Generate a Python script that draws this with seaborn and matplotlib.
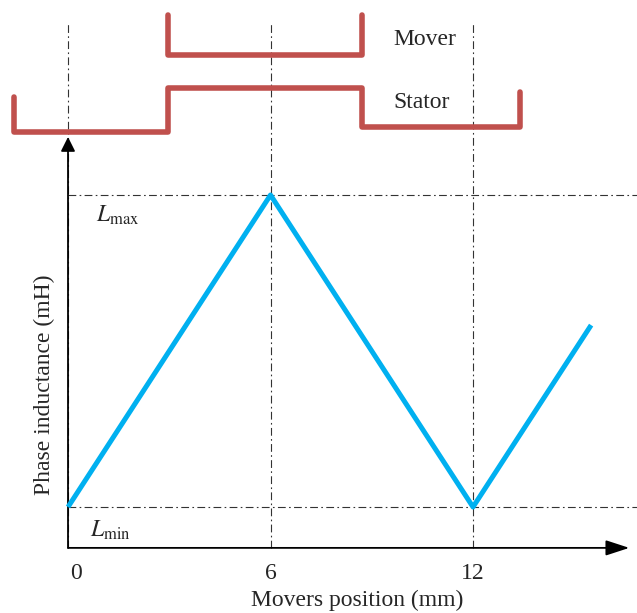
import matplotlib
matplotlib.use("Agg")
import matplotlib.pyplot as plt
import seaborn as sns
import pandas as pd

# ---- data ----
position_mm = [0, 6, 12, 15.5]
inductance = [0.0, 1.0, 0.0, 0.583]          # normalised: 0 = Lmin, 1 = Lmax
tick_values = [0, 6, 12]
tick_labels = ["0", "6", "12"]
mover_x = [2.96, 2.96, 8.71, 8.71]
mover_y = [1.577, 1.449, 1.449, 1.577]
stator_x = [-1.6, -1.6, 2.96, 2.96, 8.71, 8.71, 13.39, 13.39]
stator_y = [1.314, 1.202, 1.202, 1.343, 1.343, 1.218, 1.218, 1.330]

sns.set_theme(style="white")
plt.rcParams["font.family"] = ["Liberation Serif", "DejaVu Serif"]
plt.rcParams["mathtext.fontset"] = "stix"

fig = plt.figure(figsize=(6.37, 6.13), dpi=100)
ax = fig.add_axes([0, 0, 1, 1])
ax.set_xlim(-2.015, 16.859)
ax.set_ylim(-0.3397, 1.625)
ax.axis("off")

red = "#C0504D"
blue = "#00B0F0"
dd = (0, (7, 3, 1.5, 3))
x_axis_y = -0.131
y_top = 1.551

# dash-dot guides
for xv in tick_values:
    ax.plot([xv, xv], [x_axis_y, y_top], color="#333333", lw=0.8, ls=dd, zorder=1)
for yv in [0, 1]:
    ax.plot([0, 16.9], [yv, yv], color="#333333", lw=0.8, ls=dd, zorder=1)

# axes arrows
ax.annotate("", xy=(16.63, x_axis_y), xytext=(0, x_axis_y),
            arrowprops=dict(arrowstyle="-|>,head_length=1.44,head_width=0.47",
                            mutation_scale=10, color="black", lw=1.3,
                            shrinkA=0, shrinkB=0), zorder=3)
ax.annotate("", xy=(0, 1.186), xytext=(0, x_axis_y),
            arrowprops=dict(arrowstyle="-|>,head_length=0.86,head_width=0.43",
                            mutation_scale=10, color="black", lw=1.3,
                            shrinkA=0, shrinkB=0), zorder=3)

# inductance profile
df = pd.DataFrame({"pos": position_mm, "L": inductance})
sns.lineplot(data=df, x="pos", y="L", sort=False, color=blue, lw=3.6, ax=ax,
             zorder=4, solid_capstyle="butt")

# mover / stator
ax.plot(mover_x, mover_y, color=red, lw=4, solid_joinstyle="round",
        solid_capstyle="round", zorder=4, clip_on=False)
ax.plot(stator_x, stator_y, color=red, lw=4, solid_joinstyle="round",
        solid_capstyle="round", zorder=4, clip_on=False)

fs = 17
ax.text(9.63, 1.50, "Mover", fontsize=fs, va="center", ha="left")
ax.text(9.63, 1.295, "Stator", fontsize=fs, va="center", ha="left")
ax.text(0.83, 0.936, r"$L_{\mathrm{max}}$", fontsize=fs, va="center", ha="left")
ax.text(0.65, -0.074, r"$L_{\mathrm{min}}$", fontsize=fs, va="center", ha="left")

for tv, tl in zip(tick_values, tick_labels):
    ax.text(tv + (0.25 if tv == 0 else 0), -0.213, tl, fontsize=fs,
            ha="center", va="center")

ax.text(8.56, -0.316, "Movers position (mm)", fontsize=fs, ha="center",
        va="baseline")
ax.text(-0.70, 0.391, "Phase inductance (mH)", fontsize=fs, ha="center",
        va="center", rotation=90)

fig.savefig("out.png", dpi=100)
